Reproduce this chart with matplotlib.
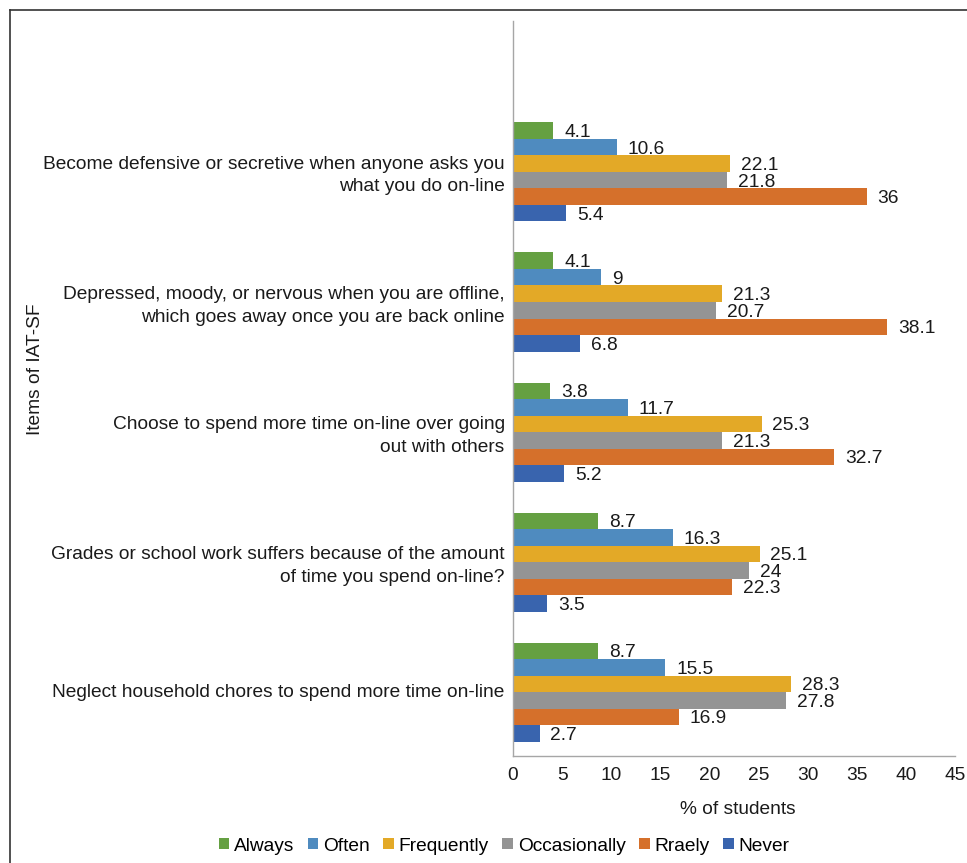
import numpy as np
import matplotlib.pyplot as plt
from matplotlib.lines import Line2D

plt.rcParams['font.family'] = ['Liberation Sans', 'DejaVu Sans']

# items, top to bottom
items = [
    "Become defensive or secretive when anyone asks you\nwhat you do on-line",
    "Depressed, moody, or nervous when you are offline,\nwhich goes away once you are back online",
    "Choose to spend more time on-line over going\nout with others",
    "Grades or school work suffers because of the amount\nof time you spend on-line?",
    "Neglect household chores to spend more time on-line",
]
series = ["Always", "Often", "Frequently", "Occasionally", "Rraely", "Never"]
always = [4.1, 4.1, 3.8, 8.7, 8.7]
often = [10.6, 9, 11.7, 16.3, 15.5]
frequently = [22.1, 21.3, 25.3, 25.1, 28.3]
occasionally = [21.8, 20.7, 21.3, 24, 27.8]
rarely = [36, 38.1, 32.7, 22.3, 16.9]
never = [5.4, 6.8, 5.2, 3.5, 2.7]
values = [always, often, frequently, occasionally, rarely, never]
colors = ["#65A042", "#4F8BBF", "#E3A927", "#949494", "#D5702B", "#3964AE"]
x_ticks = [0, 5, 10, 15, 20, 25, 30, 35, 40, 45]

fs = 13.8
txt = '#1a1a1a'

fig = plt.figure(figsize=(9.67, 8.63), dpi=100)
ax = fig.add_axes([513 / 967, 1 - 756 / 863, 442 / 967, 735 / 863])

n = len(items)
centers = np.arange(n)[::-1]  # top item at the top
h = 0.127
for j, (name, vals, c) in enumerate(zip(series, values, colors)):
    y = centers + (2.5 - j) * h - 0.01
    ax.barh(y, vals, height=h, color=c, label=name)
    for yy, v in zip(y, vals):
        ax.text(v + 1.1, yy - 0.015, f"{v:g}", va='center', ha='left',
                fontsize=fs, color=txt)

ax.set_xlim(0, 45)
ax.set_ylim(-0.5, 5.15)
ax.set_xticks(x_ticks)
ax.set_xticklabels([str(t) for t in x_ticks], fontsize=fs, color=txt)
ax.set_yticks(centers)
ax.set_yticklabels(items, fontsize=fs, color=txt, ha='right', linespacing=1.45)
ax.tick_params(length=0, pad=6)
ax.tick_params(axis='x', pad=8)
for s in ['top', 'right']:
    ax.spines[s].set_visible(False)
for s in ['left', 'bottom']:
    ax.spines[s].set_color('#A6A6A6')
    ax.spines[s].set_linewidth(1.0)

fig.text(738 / 967, 1 - 809 / 863, "% of students", ha='center', va='center',
         fontsize=fs, color=txt)
fig.text(36 / 967, 1 - 369 / 863, "Items of IAT-SF", ha='center', va='center',
         rotation=90, fontsize=fs, color=txt)

fig.legend(loc='center', bbox_to_anchor=(504 / 967, 1 - 846 / 863), ncol=6,
           frameon=False, fontsize=fs, handlelength=0.55, handleheight=0.55,
           handletextpad=0.25, columnspacing=0.7)

# outer frame
fig.add_artist(Line2D([10 / 967, 1], [1 - 10 / 863, 1 - 10 / 863],
                      transform=fig.transFigure, color='#333333', lw=1.2))
fig.add_artist(Line2D([10 / 967, 10 / 967], [0, 1 - 10 / 863],
                      transform=fig.transFigure, color='#333333', lw=1.2))

fig.savefig("out.png", dpi=100)
